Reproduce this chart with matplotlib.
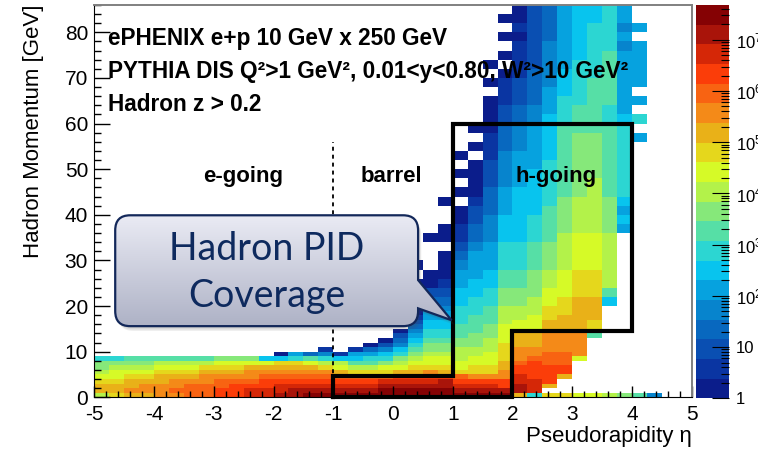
import numpy as np
import matplotlib
matplotlib.use('Agg')
import matplotlib.pyplot as plt
import matplotlib.transforms as mtransforms
from matplotlib.colors import ListedColormap, LogNorm, LinearSegmentedColormap
from matplotlib.path import Path
from matplotlib.patches import PathPatch
from matplotlib.ticker import MultipleLocator, LogLocator, NullFormatter

plt.rcParams['font.family'] = ['Liberation Sans', 'DejaVu Sans']
plt.rcParams['axes.unicode_minus'] = False
plt.rcParams['mathtext.fontset'] = 'custom'
plt.rcParams['mathtext.rm'] = 'Liberation Sans'
plt.rcParams['mathtext.it'] = 'Liberation Sans:italic'
plt.rcParams['mathtext.bf'] = 'Liberation Sans:bold'

# Palette steps, lowest bin content first (log z, 20 contours)
palette = ['#0b1d8b', '#0a35a2', '#0a4fb2', '#0868bf', '#0784cd',
           '#06a2df', '#08c4ee', '#2cd6d2', '#56dfa6', '#86e87a',
           '#b3f24a', '#d6fa27', '#e5d71c', '#e9b118', '#f48a18',
           '#f86312', '#fb3d09', '#d52707', '#a9140a', '#850204']
LEVELS = '0123456789abcdefghij'
Z_MAX_LOG = 7.68

# Histogram content, one string per eta bin (-5 .. 5, width 0.25).
# low_bins: momentum 0-20 GeV in 1 GeV rows, bottom row first.
# high_bins: momentum 20-86 GeV in 2 GeV rows.
# '.' = empty bin, otherwise the palette step of the bin.
low_bins = [
    'addcba997', 'cddcbba97', 'deddcba98', 'deedcba98',
    'eeeddcba8', 'efeedcba8', 'fffedcba8', 'fffeedca8',
    'ggffedcb9', 'gggfedcb9', 'hhgfeedb9', 'hhggfedb6',
    'ihhgfedc60', 'iihgfedc75', 'jihgfedb83', 'jihgfeca741',
    'jihgfdba61', 'jihgfca8651', 'jihgfca87530', 'jjihfcb976420',
    'jjihgdba9764320', 'jjihgdcba98765432100', 'jjihgecbba9987766554', 'jjiigdcbba9987766554',
    'jihgfcbbaaa998887777', 'jihgeccbbaa999888877', 'jihgeccbbbaaa9998888', 'jiggeeddccccbbbbaaaa',
    'diihhggfeeedddbbbaaa', '7hhhggggfeedddcbbbaa', 'c.dggggfffeeeedddccc', 'c...dggfffeeeeddddcc',
    'b.......beeeeedddddd', 'b............8cccddd', 'a', '9',
    '8', '4', '', '',
]
high_bins = [
    '', '', '', '', '', '', '', '', '', '', '', '', '', '', '', '',
    '', '', '', '', '',
    '210.0',
    '3200...0',
    '321000.00..0.',
    '66554321100.0.0.0',
    '7665554332210000.0.0',
    '77665554443332221110000.0.0',
    '99887776665554444333221110.0.0.0.',
    '998877766666655554443322211110100',
    'a99988877766666555554433332222222',
    'bbaa99988887777766666555444443333',
    'cbbbaaaa9999888888887776665555555',
    'dcccbbbbaaaa999999988877777666666',
    'dcccbbbbaaaaaa9999988888877777766',
    '68aaaaaa9999888888887788888877777',
    '........5656777777776555555545455',
    '..................5.7.5.55555.5..',
    '', '', '',
]

eta_edges = np.linspace(-5, 5, 41)
p_edges = np.concatenate([np.arange(0, 20), np.arange(20, 87, 2)])

# PID coverage outline and the e-going / barrel boundary
pid_eta = [-1, -1, 1, 1, 4, 4, 2, 2, -1]
pid_p = [0, 4.7, 4.7, 60, 60, 14.5, 14.5, 0, 0]
boundary_eta = [-1, -1]
boundary_p = [0, 56]

header_lines = ['ePHENIX e+p 10 GeV x 250 GeV',
                'PYTHIA DIS Q²>1 GeV², 0.01<y<0.80, W²>10 GeV²',
                'Hadron z > 0.2']
regions = ['e-going', 'barrel', 'h-going']
region_eta = [-2.51, -0.02, 2.73]


def decode(columns, nrows):
    return np.array([[LEVELS.find(ch) for ch in col.ljust(nrows, '.')]
                     for col in columns])


def callout_path(x0, x1, y0, y1, rx, ry, base_hi, tip, base_lo):
    """Rounded box with a pointer on its right side."""
    verts = [(x0 + rx, y1), (x1 - rx, y1), (x1, y1), (x1, y1 - ry),
             (x1, base_hi), tip, (x1, base_lo),
             (x1, y0 + ry), (x1, y0), (x1 - rx, y0),
             (x0 + rx, y0), (x0, y0), (x0, y0 + ry),
             (x0, y1 - ry), (x0, y1), (x0 + rx, y1), (x0 + rx, y1)]
    codes = [Path.MOVETO, Path.LINETO, Path.CURVE3, Path.CURVE3,
             Path.LINETO, Path.LINETO, Path.LINETO,
             Path.LINETO, Path.CURVE3, Path.CURVE3,
             Path.LINETO, Path.CURVE3, Path.CURVE3,
             Path.LINETO, Path.CURVE3, Path.CURVE3, Path.CLOSEPOLY]
    return Path(verts, codes)


def main():
    levels = np.hstack([decode(low_bins, 20), decode(high_bins, 33)]).T
    counts = np.ma.masked_where(
        levels < 0, 10.0 ** ((levels + 0.5) * Z_MAX_LOG / len(LEVELS)))

    fig = plt.figure(figsize=(7.58, 4.51), dpi=100)
    ax = fig.add_axes([94.3 / 758, 1 - 397.3 / 451, 597.4 / 758, 392.3 / 451])
    cax = fig.add_axes([696 / 758, 1 - 398.3 / 451, 33.3 / 758, 393.3 / 451])

    cmap = ListedColormap(palette)
    norm = LogNorm(vmin=1, vmax=10 ** Z_MAX_LOG)
    mesh = ax.pcolormesh(eta_edges, p_edges, counts, cmap=cmap, norm=norm,
                         shading='flat', antialiased=False, zorder=1)
    ax.set_xlim(-5, 5)
    ax.set_ylim(0, 86)

    # axes in the ROOT look: ticks inside, left and bottom only
    ax.xaxis.set_major_locator(MultipleLocator(1))
    ax.xaxis.set_minor_locator(MultipleLocator(0.2))
    ax.yaxis.set_major_locator(MultipleLocator(10))
    ax.yaxis.set_minor_locator(MultipleLocator(2))
    ax.tick_params(which='both', direction='in', top=False, right=False,
                   labelsize=15, width=1)
    ax.tick_params(axis='x', which='major', length=8, pad=5.5)
    ax.tick_params(axis='x', which='minor', length=4.3)
    ax.tick_params(axis='y', which='major', length=11.5, pad=4.5)
    ax.tick_params(axis='y', which='minor', length=5)
    for side in ('top', 'right'):
        ax.spines[side].set_color('#808080')
        ax.spines[side].set_linewidth(1.4)

    ax.text(1.0, -0.074, 'Pseudorapidity η', transform=ax.transAxes,
            ha='right', va='top', fontsize=16)
    ax.text(-0.1026, 1.0, 'Hadron Momentum [GeV]', transform=ax.transAxes,
            rotation=90, ha='center', va='top', fontsize=16)

    # colour scale
    cb = fig.colorbar(mesh, cax=cax)
    cb.outline.set_visible(False)
    cb.set_ticks([10.0 ** k for k in range(8)])
    cb.set_ticklabels(['1', '10'] + ['$10^{%d}$' % k for k in range(2, 8)])
    cax.yaxis.set_minor_locator(LogLocator(base=10, subs=np.arange(2, 10), numticks=20))
    cax.yaxis.set_minor_formatter(NullFormatter())
    cax.tick_params(which='both', direction='in', right=True, left=False,
                    labelsize=12, pad=5, width=0.8)
    cax.tick_params(which='major', length=12.5)
    cax.tick_params(which='minor', length=6)

    # coverage outline and region boundary
    ax.plot(pid_eta, pid_p, color='black', lw=3, solid_joinstyle='miter',
            clip_on=False, zorder=4)
    ax.plot(boundary_eta, boundary_p, color='black', lw=1.3,
            ls=(0, (2.2, 2.2)), zorder=3)

    for text, p in zip(header_lines, [77.2, 70.1, 62.8]):
        ax.text(-4.77, p, text, fontsize=16.3, fontweight='bold', va='baseline', zorder=5)
    for text, eta in zip(regions, region_eta):
        ax.text(eta, 47.3, text, fontsize=16, fontweight='bold',
                ha='center', va='baseline', zorder=5)

    # callout box
    x0, x1, y0, y1 = -4.65, 0.42, 15.6, 39.9
    tip = (0.98, 16.9)
    path = callout_path(x0, x1, y0, y1, 0.25, 3.3, 25.7, tip, 19.5)
    for k in range(1, 5):
        shift = mtransforms.Affine2D().translate(0.8 * k, -1.2 * k)
        ax.add_patch(PathPatch(path, facecolor='#505050', edgecolor='none',
                               alpha=0.09, transform=ax.transData + shift, zorder=5))
    grad = LinearSegmentedColormap.from_list('callout', ['#aeb2c6', '#eaebf4'])
    im = ax.imshow(np.linspace(0, 1, 200).reshape(-1, 1), extent=(x0, tip[0], y0, y1),
                   origin='lower', cmap=grad, aspect='auto', interpolation='bilinear',
                   zorder=6)
    outline = PathPatch(path, facecolor='none', edgecolor='#13285a', lw=1.6, zorder=7)
    ax.add_patch(outline)
    im.set_clip_path(outline)
    ax.text(-2.11, 30.1, 'Hadron PID', ha='center', va='baseline', fontsize=27,
            family='Lato', color='#0e2a5e', zorder=8)
    ax.text(-2.11, 19.9, 'Coverage', ha='center', va='baseline', fontsize=27,
            family='Lato', color='#0e2a5e', zorder=8)
    ax.set_xlim(-5, 5)
    ax.set_ylim(0, 86)

    fig.savefig('out.png', dpi=100, facecolor='white')


if __name__ == '__main__':
    main()
